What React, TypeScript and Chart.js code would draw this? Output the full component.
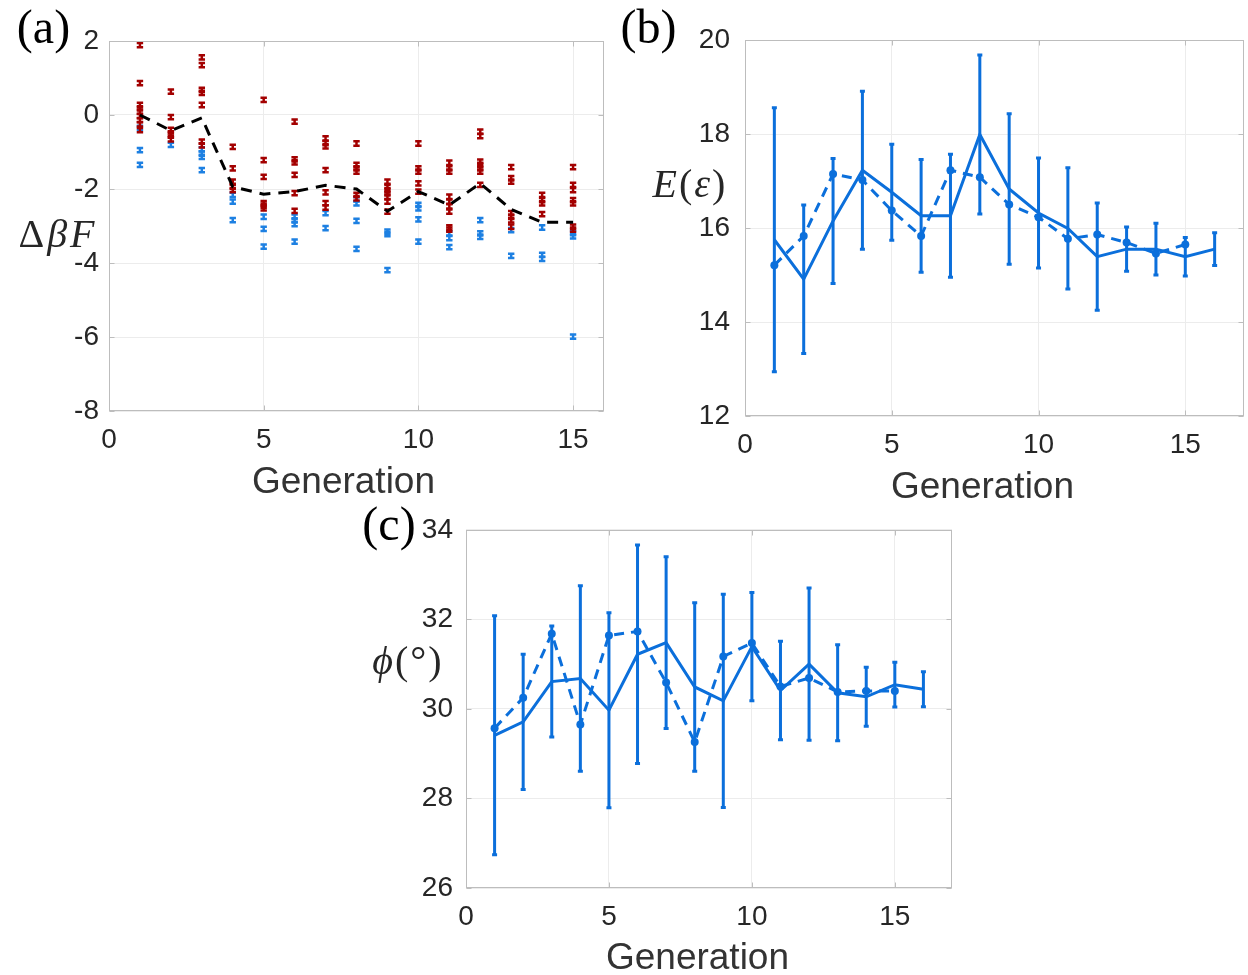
import React, { useEffect, useRef } from 'react';
import { Chart, registerables } from 'chart.js';

Chart.register(...registerables);

const SANS = '"Liberation Sans", Arial, Helvetica, sans-serif';
const SERIF = '"Liberation Serif", "Times New Roman", serif';
const TICK_COLOR = '#262626';
const GRID_COLOR = '#ececec';
const BOX_COLOR = '#bdbdbd';
const LINE_BLUE = '#0b6fdb';
const RED_A = '#a30000';
const BLUE_A = '#1d80e2';

// ---------- Panel (a): ΔβF vs generation ----------
const gensA = [1, 2, 3, 4, 5, 6, 7, 8, 9, 10, 11, 12, 13, 14, 15];
const redA: number[][] = [
  [1.89, 0.86, 0.27, 0.18, 0.09, -0.03, -0.14, -0.25, -0.41],
  [0.63, -0.06, -0.4, -0.5, -0.56, -0.66],
  [1.56, 1.35, 0.68, 0.6, 0.27, -0.72, -0.82],
  [-0.86, -1.44, -1.8, -1.94, -2.03],
  [0.41, -1.22, -1.67, -2.38, -2.45, -2.52],
  [-0.18, -1.2, -1.28, -1.62, -2.11, -2.59],
  [-0.63, -0.76, -0.85, -1.49, -2.09, -2.38, -2.5],
  [-0.77, -1.35, -1.44, -1.53, -2.16, -2.25],
  [-1.8, -1.94, -2.03, -2.12, -2.21, -2.34, -2.61],
  [-0.77, -1.44, -1.53, -1.85, -2.07],
  [-1.29, -1.44, -1.53, -2.21, -2.34, -2.47, -2.61, -3.04, -3.1],
  [-0.45, -0.57, -1.26, -1.35, -1.44, -1.53, -1.89],
  [-1.41, -1.71, -1.8, -2.65, -2.75, -2.85, -3.02],
  [-2.16, -2.3, -2.39, -2.68],
  [-1.41, -1.89, -2.03, -2.3, -2.39, -3.02, -3.1],
];
const blueA: number[][] = [
  [-0.35, -0.95, -1.35],
  [-0.81],
  [-0.93, -1.04, -1.13, -1.49],
  [-2.16, -2.34, -2.84],
  [-2.75, -3.08, -3.56],
  [-2.75, -2.85, -2.95, -3.42],
  [-2.65, -3.06],
  [-2.28, -2.39, -2.86, -3.62],
  [-3.15, -3.22, -4.19],
  [-2.43, -2.52, -2.82, -3.42],
  [-3.2, -3.33, -3.57],
  [-2.84, -3.2, -3.29],
  [-3.11, -3.81],
  [-3.04, -3.78, -3.89],
  [-3.19, -3.28, -5.99],
];
const meanA = [0, -0.42, -0.08, -1.94, -2.14, -2.07, -1.9, -2.0, -2.6, -2.07, -2.43, -1.85, -2.55, -2.9, -2.9];
const errA = 0.058;
const xTicksA = [0, 5, 10, 15];
const yTicksA = [-8, -6, -4, -2, 0, 2];

// ---------- Panel (b): E(ε) vs generation ----------
const gensB = [1, 2, 3, 4, 5, 6, 7, 8, 9, 10, 11, 12, 13, 14, 15, 16];
const solidB = [15.75, 14.91, 16.15, 17.23, 16.76, 16.26, 16.26, 17.99, 16.83, 16.32, 15.99, 15.39, 15.55, 15.55, 15.39, 15.55];
const errB = [2.81, 1.58, 1.33, 1.68, 1.02, 1.2, 1.31, 1.69, 1.6, 1.17, 1.29, 1.14, 0.47, 0.55, 0.41, 0.35];
const dashedB = [15.21, 15.83, 17.15, 17.02, 16.37, 15.83, 17.23, 17.08, 16.5, 16.23, 15.77, 15.86, 15.69, 15.46, 15.65];
const xTicksB = [0, 5, 10, 15];
const yTicksB = [12, 14, 16, 18, 20];

// ---------- Panel (c): ϕ(°) vs generation ----------
const gensC = [1, 2, 3, 4, 5, 6, 7, 8, 9, 10, 11, 12, 13, 14, 15, 16];
const solidC = [29.41, 29.71, 30.61, 30.68, 29.97, 31.22, 31.48, 30.49, 30.18, 31.39, 30.41, 31.0, 30.36, 30.27, 30.54, 30.44];
const errC = [2.67, 1.51, 1.24, 2.07, 2.18, 2.44, 1.92, 1.88, 2.38, 1.21, 1.1, 1.7, 1.07, 0.66, 0.5, 0.39];
const dashedC = [29.57, 30.25, 31.68, 29.65, 31.64, 31.73, 30.59, 29.26, 31.17, 31.47, 30.5, 30.69, 30.38, 30.4, 30.4];
const xTicksC = [0, 5, 10, 15];
const yTicksC = [26, 28, 30, 32, 34];

// ---------- plugins ----------
const errorBarPlugin = {
  id: 'errorBars',
  beforeDatasetsDraw(chart: any) {
    const ctx = chart.ctx;
    const xs = chart.scales.x;
    const ys = chart.scales.y;
    chart.data.datasets.forEach((ds: any) => {
      if (!ds.errorBars) return;
      const { err, color, lineWidth, capHalf } = ds.errorBars;
      ctx.save();
      ctx.strokeStyle = color;
      ctx.lineWidth = lineWidth;
      ctx.lineCap = 'butt';
      ds.data.forEach((p: any, i: number) => {
        const e = Array.isArray(err) ? err[i] : err;
        const x = xs.getPixelForValue(p.x);
        const y1 = ys.getPixelForValue(p.y - e);
        const y2 = ys.getPixelForValue(p.y + e);
        ctx.beginPath();
        ctx.moveTo(x, y1 + lineWidth / 2);
        ctx.lineTo(x, y2 - lineWidth / 2);
        ctx.moveTo(x - capHalf, y1);
        ctx.lineTo(x + capHalf, y1);
        ctx.moveTo(x - capHalf, y2);
        ctx.lineTo(x + capHalf, y2);
        ctx.stroke();
      });
      ctx.restore();
    });
  },
};

const boxPlugin = {
  id: 'axesBox',
  afterDraw(chart: any) {
    const { ctx, chartArea: a } = chart;
    const xs = chart.scales.x;
    const ys = chart.scales.y;
    const L = Math.round(a.left) + 0.5;
    const R = Math.round(a.right) - 0.5;
    const T = Math.round(a.top) + 0.5;
    const B = Math.round(a.bottom) - 0.5;
    ctx.save();
    ctx.strokeStyle = BOX_COLOR;
    ctx.lineWidth = 1;
    ctx.strokeRect(L, T, R - L, B - T);
    ctx.beginPath();
    xs.ticks.forEach((t: any) => {
      const px = Math.round(xs.getPixelForValue(t.value)) + 0.5;
      ctx.moveTo(px, B);
      ctx.lineTo(px, B - 5);
      ctx.moveTo(px, T);
      ctx.lineTo(px, T + 5);
    });
    ys.ticks.forEach((t: any) => {
      const py = Math.round(ys.getPixelForValue(t.value)) + 0.5;
      ctx.moveTo(L, py);
      ctx.lineTo(L + 5, py);
      ctx.moveTo(R, py);
      ctx.lineTo(R - 5, py);
    });
    ctx.stroke();
    ctx.restore();
  },
};

type PanelSpec = {
  datasets: any[];
  xMax: number;
  yMin: number;
  yMax: number;
  xTicks: number[];
  yTicks: number[];
  yWidth: number;
  xHeight: number;
  padding: { top: number; right: number; left: number; bottom: number };
  yPad: number;
  xPad: number;
};

function makeConfig(p: PanelSpec): any {
  const tickFont = { family: SANS, size: 28 };
  return {
    type: 'scatter',
    data: { datasets: p.datasets },
    options: {
      animation: false,
      responsive: false,
      devicePixelRatio: 1,
      layout: { padding: p.padding },
      plugins: { legend: { display: false }, tooltip: { enabled: false } },
      scales: {
        x: {
          type: 'linear',
          min: 0,
          max: p.xMax,
          afterBuildTicks: (s: any) => {
            s.ticks = p.xTicks.map((v) => ({ value: v }));
          },
          afterFit: (s: any) => {
            s.height = p.xHeight;
          },
          ticks: {
            font: tickFont,
            color: TICK_COLOR,
            padding: p.xPad,
            maxRotation: 0,
            autoSkip: false,
            callback: (v: any) => String(v),
          },
          grid: { color: GRID_COLOR, drawTicks: false, lineWidth: 1 },
          border: { display: false },
        },
        y: {
          type: 'linear',
          min: p.yMin,
          max: p.yMax,
          afterBuildTicks: (s: any) => {
            s.ticks = p.yTicks.map((v) => ({ value: v }));
          },
          afterFit: (s: any) => {
            s.width = p.yWidth;
          },
          ticks: {
            font: tickFont,
            color: TICK_COLOR,
            padding: p.yPad,
            autoSkip: false,
            callback: (v: any) => String(v),
          },
          grid: { color: GRID_COLOR, drawTicks: false, lineWidth: 1 },
          border: { display: false },
        },
      },
    },
    plugins: [errorBarPlugin, boxPlugin],
  };
}

function buildA(): any {
  const pts = (groups: number[][]) => {
    const out: { x: number; y: number }[] = [];
    groups.forEach((g, i) => g.forEach((v) => out.push({ x: gensA[i], y: v })));
    return out;
  };
  return makeConfig({
    datasets: [
      {
        data: pts(blueA),
        pointRadius: 0,
        showLine: false,
        errorBars: { err: errA, color: BLUE_A, lineWidth: 2.5, capHalf: 3.2 },
      },
      {
        data: pts(redA),
        pointRadius: 0,
        showLine: false,
        errorBars: { err: errA, color: RED_A, lineWidth: 2.5, capHalf: 3.2 },
      },
      {
        data: gensA.map((g, i) => ({ x: g, y: meanA[i] })),
        showLine: true,
        pointRadius: 0,
        borderColor: '#000000',
        borderWidth: 3,
        borderDash: [11, 8],
      },
    ],
    xMax: 16,
    yMin: -8,
    yMax: 2,
    xTicks: xTicksA,
    yTicks: yTicksA,
    yWidth: 109,
    xHeight: 99,
    padding: { top: 41, right: 16, left: 0, bottom: 0 },
    yPad: 10,
    xPad: 12,
  });
}

function buildLinePanel(
  gens: number[],
  solid: number[],
  err: number[],
  dashed: number[],
  extra: Omit<PanelSpec, 'datasets'>
): any {
  return makeConfig({
    datasets: [
      {
        data: gens.map((g, i) => ({ x: g, y: solid[i] })),
        showLine: true,
        pointRadius: 0,
        borderColor: LINE_BLUE,
        borderWidth: 3,
        errorBars: { err, color: LINE_BLUE, lineWidth: 3, capHalf: 2.5 },
      },
      {
        data: dashed.map((v, i) => ({ x: gens[i], y: v })),
        showLine: true,
        pointRadius: 4,
        pointBackgroundColor: LINE_BLUE,
        pointBorderWidth: 0,
        borderColor: LINE_BLUE,
        borderWidth: 3,
        borderDash: [10, 7],
      },
    ],
    ...extra,
  });
}

function buildB(): any {
  return buildLinePanel(gensB, solidB, errB, dashedB, {
    xMax: 17,
    yMin: 12,
    yMax: 20,
    xTicks: xTicksB,
    yTicks: yTicksB,
    yWidth: 125,
    xHeight: 94,
    padding: { top: 40, right: 3, left: 0, bottom: 0 },
    yPad: 15,
    xPad: 12,
  });
}

function buildC(): any {
  return buildLinePanel(gensC, solidC, errC, dashedC, {
    xMax: 17,
    yMin: 26,
    yMax: 34,
    xTicks: xTicksC,
    yTicks: yTicksC,
    yWidth: 126,
    xHeight: 87,
    padding: { top: 23, right: 16, left: 0, bottom: 0 },
    yPad: 13,
    xPad: 12,
  });
}

function ChartPanel(props: { left: number; top: number; width: number; height: number; build: () => any }) {
  const ref = useRef<HTMLCanvasElement>(null);
  useEffect(() => {
    const chart = new Chart(ref.current as HTMLCanvasElement, props.build());
    return () => chart.destroy();
  }, []);
  return (
    <canvas
      ref={ref}
      width={props.width}
      height={props.height}
      style={{ position: 'absolute', left: props.left, top: props.top, width: props.width, height: props.height }}
    />
  );
}

function Label(props: {
  x: number;
  y: number;
  size: number;
  family: string;
  color?: string;
  spacing?: number;
  children: React.ReactNode;
}) {
  return (
    <div
      style={{
        position: 'absolute',
        left: props.x,
        top: props.y,
        transform: 'translate(-50%, -50%)',
        fontFamily: props.family,
        fontSize: props.size,
        lineHeight: 1,
        letterSpacing: props.spacing || 0,
        color: props.color || '#000',
        whiteSpace: 'nowrap',
        zIndex: 2,
      }}
    >
      {props.children}
    </div>
  );
}

export default function App() {
  return (
    <div
      style={{
        position: 'absolute',
        left: 0,
        top: 0,
        width: 1248,
        height: 975,
        overflow: 'hidden',
        background: '#ffffff',
      }}
    >
      <ChartPanel left={0} top={0} width={620} height={510} build={buildA} />
      <ChartPanel left={620} top={0} width={628} height={510} build={buildB} />
      <ChartPanel left={340} top={500} width={628} height={475} build={buildC} />

      <Label x={43.5} y={27} size={48} family={SERIF}>(a)</Label>
      <Label x={648.5} y={27} size={48} family={SERIF}>(b)</Label>
      <Label x={389} y={524} size={48} family={SERIF}>(c)</Label>

      <Label x={58} y={234} size={40} family={SERIF} color="#262626" spacing={3}>
        Δ<i>βF</i>
      </Label>
      <Label x={690} y={184} size={40} family={SERIF} color="#262626" spacing={2}>
        <i>E</i>(<i>ε</i>)
      </Label>
      <Label x={408} y={661} size={40} family={SERIF} color="#262626" spacing={2}>
        <i>ϕ</i>(°)
      </Label>

      <Label x={343.5} y={480} size={37} family={SANS} color="#333333">Generation</Label>
      <Label x={982.5} y={485} size={37} family={SANS} color="#333333">Generation</Label>
      <Label x={697.5} y={956} size={37} family={SANS} color="#333333">Generation</Label>
    </div>
  );
}
